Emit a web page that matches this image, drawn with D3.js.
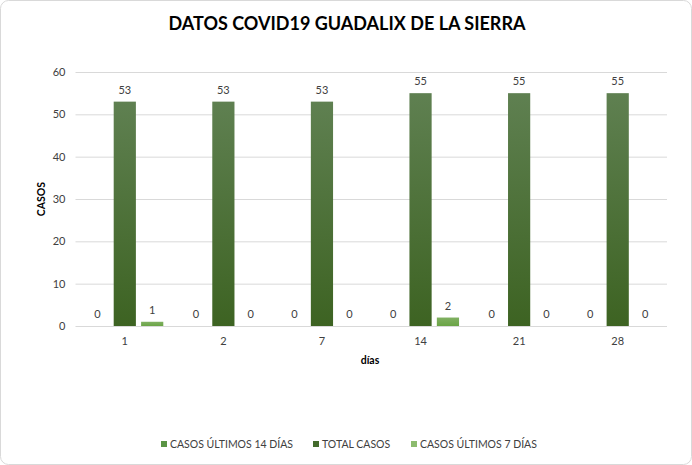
<!DOCTYPE html>
<html>
<head>
<meta charset="utf-8">
<script src="https://cdn.jsdelivr.net/npm/d3@7"></script>
<style>
body { margin: 0; background: #fff; }
text { font-family: Lato, "Open Sans", sans-serif; }
</style>
</head>
<body>
<script>
var w = 692;
var h = 465;

var dias = ["1", "2", "7", "14", "21", "28"];
var casos14 = [0, 0, 0, 0, 0, 0];
var totalCasos = [53, 53, 53, 55, 55, 55];
var casos7 = [1, 0, 0, 2, 0, 0];
var seriesNames = ["CASOS ÚLTIMOS 14 DÍAS", "TOTAL CASOS", "CASOS ÚLTIMOS 7 DÍAS"];
var yTicks = [0, 10, 20, 30, 40, 50, 60];

var series = [casos14, totalCasos, casos7];
var legendColors = ["#5a9444", "#436b2c", "#8cbb6e"];

var svg = d3.select("body").append("svg").attr("width", w).attr("height", h);

var defs = svg.append("defs");
var g1 = defs.append("linearGradient").attr("id", "gDark").attr("x1", 0).attr("y1", 0).attr("x2", 0).attr("y2", 1);
g1.append("stop").attr("offset", "0%").attr("stop-color", "#5f8051");
g1.append("stop").attr("offset", "100%").attr("stop-color", "#3d6322");
var g2 = defs.append("linearGradient").attr("id", "gLight").attr("x1", 0).attr("y1", 0).attr("x2", 0).attr("y2", 1);
g2.append("stop").attr("offset", "0%").attr("stop-color", "#80b062");
g2.append("stop").attr("offset", "100%").attr("stop-color", "#6aa445");
var g0 = defs.append("linearGradient").attr("id", "gMid").attr("x1", 0).attr("y1", 0).attr("x2", 0).attr("y2", 1);
g0.append("stop").attr("offset", "0%").attr("stop-color", "#6a9a55");
g0.append("stop").attr("offset", "100%").attr("stop-color", "#4f8a35");
var fills = ["url(#gMid)", "url(#gDark)", "url(#gLight)"];

svg.append("rect")
    .attr("x", 0.5).attr("y", 0.5)
    .attr("width", w - 1).attr("height", h - 1)
    .attr("rx", 8)
    .attr("fill", "#fff")
    .attr("stroke", "#d9d9d9");

svg.append("text")
    .attr("x", 347).attr("y", 30)
    .attr("text-anchor", "middle")
    .style("font-size", "18px")
    .style("font-weight", "bold")
    .attr("fill", "#000")
    .text("DATOS  COVID19 GUADALIX DE LA SIERRA");

var plotLeft = 75.5, plotRight = 667, plotTop = 72, plotBottom = 326;

var x = d3.scaleBand().domain(dias).range([plotLeft, plotRight]);
var y = d3.scaleLinear().domain([0, 60]).range([plotBottom, plotTop]);
var inner = d3.scaleBand().domain([0, 1, 2]).range([x.bandwidth() / 2 - 38.5, x.bandwidth() / 2 + 38.5]).paddingInner(0.19);

// grid
svg.append("g").selectAll("line")
    .data(yTicks)
    .enter().append("line")
    .attr("x1", plotLeft).attr("x2", plotRight)
    .attr("y1", function(d) { return y(d) + 0.5; })
    .attr("y2", function(d) { return y(d) + 0.5; })
    .attr("stroke", "#d9d9d9");

var yAxis = svg.append("g")
    .attr("transform", "translate(" + plotLeft + ",0)")
    .call(d3.axisLeft(y).tickValues(yTicks).tickSize(0).tickPadding(10));
yAxis.select(".domain").remove();
yAxis.selectAll("text").style("font-size", "11px").attr("fill", "#404040").style("font-family", "Lato, sans-serif");

var xAxis = svg.append("g")
    .attr("transform", "translate(0," + plotBottom + ")")
    .call(d3.axisBottom(x).tickSize(0).tickPadding(11));
xAxis.select(".domain").remove();
xAxis.selectAll("text").style("font-size", "11px").attr("fill", "#404040").style("font-family", "Lato, sans-serif");

var groups = svg.append("g").selectAll("g")
    .data(dias)
    .enter().append("g")
    .attr("transform", function(d) { return "translate(" + x(d) + ",0)"; });

series.forEach(function(s, si) {
    groups.append("rect")
        .attr("x", inner(si))
        .attr("width", inner.bandwidth())
        .attr("y", function(d, i) { return y(s[i]); })
        .attr("height", function(d, i) { return plotBottom - y(s[i]); })
        .attr("fill", fills[si]);

    groups.append("text")
        .attr("x", inner(si) + inner.bandwidth() / 2)
        .attr("y", function(d, i) { return y(s[i]) - 8; })
        .attr("text-anchor", "middle")
        .style("font-size", "11px")
        .attr("fill", "#404040")
        .text(function(d, i) { return s[i]; });
});

svg.append("text")
    .attr("transform", "translate(45,199) rotate(-90)")
    .attr("text-anchor", "middle")
    .style("font-size", "10.5px")
    .style("font-weight", "bold")
    .attr("fill", "#000")
    .text("CASOS");

svg.append("text")
    .attr("x", 370).attr("y", 364)
    .attr("text-anchor", "middle")
    .style("font-size", "10.5px")
    .style("font-weight", "bold")
    .attr("fill", "#000")
    .text("días");

var legendX = [161, 313, 411];
var legend = svg.append("g").selectAll("g")
    .data(seriesNames)
    .enter().append("g")
    .attr("transform", function(d, i) { return "translate(" + legendX[i] + ",440)"; });
legend.append("rect")
    .attr("width", 6).attr("height", 6)
    .attr("y", 1)
    .attr("fill", function(d, i) { return legendColors[i]; });
legend.append("text")
    .attr("x", 9).attr("y", 8)
    .style("font-size", "10.5px")
    .attr("fill", "#404040")
    .text(function(d) { return d; });
</script>
</body>
</html>
